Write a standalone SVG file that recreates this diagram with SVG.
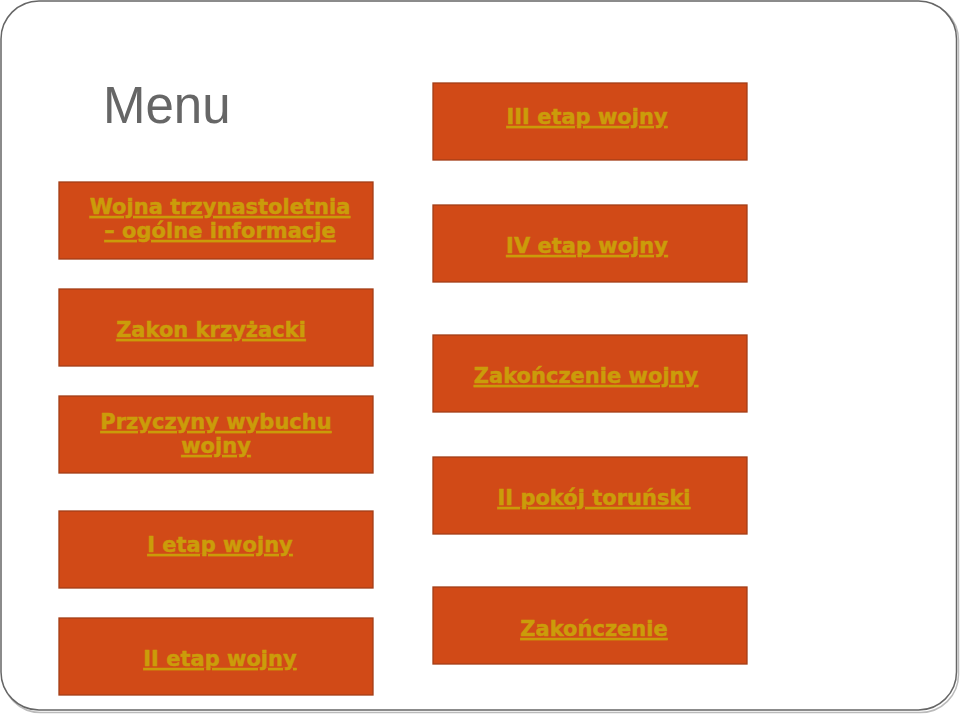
<svg xmlns="http://www.w3.org/2000/svg" width="960" height="714" viewBox="0 0 960 714">
<style>
.box{fill:#D14A17;stroke:#A33D16;stroke-width:1.3}
.lbl{font-family:"DejaVu Sans",sans-serif;font-weight:bold;font-size:21px;fill:#CB9C0A;stroke:#CB9C0A;stroke-width:0.5;text-anchor:middle;text-decoration:underline}
.title{font-family:"Liberation Sans",Arial,sans-serif;font-size:51px;fill:#666666}
</style>
<rect x="2.5" y="2.5" width="956" height="710" rx="38" fill="none" stroke="#bbbbbb" stroke-width="1.5"/>
<rect x="1" y="1" width="955.5" height="709" rx="38" fill="#ffffff" stroke="#666666" stroke-width="1.5"/>
<text class="title" x="103" y="123">Menu</text>
<g id="connectors"/>
<g id="n1"><rect class="box" x="59" y="182" width="314" height="77"/><text class="lbl" x="220" y="214">Wojna trzynastoletnia</text><text class="lbl" x="220" y="238">– ogólne informacje</text></g>
<g id="n2"><rect class="box" x="59" y="289" width="314" height="77"/><text class="lbl" x="211" y="337">Zakon krzyżacki</text></g>
<g id="n3"><rect class="box" x="59" y="396" width="314" height="77"/><text class="lbl" x="216" y="429">Przyczyny wybuchu</text><text class="lbl" x="216" y="453">wojny</text></g>
<g id="n4"><rect class="box" x="59" y="511" width="314" height="77"/><text class="lbl" x="220" y="552">I etap wojny</text></g>
<g id="n5"><rect class="box" x="59" y="618" width="314" height="77"/><text class="lbl" x="220" y="666">II etap wojny</text></g>
<g id="n6"><rect class="box" x="433" y="83" width="314" height="77"/><text class="lbl" x="587" y="124">III etap wojny</text></g>
<g id="n7"><rect class="box" x="433" y="205" width="314" height="77"/><text class="lbl" x="587" y="253">IV etap wojny</text></g>
<g id="n8"><rect class="box" x="433" y="335" width="314" height="77"/><text class="lbl" x="586" y="383">Zakończenie wojny</text></g>
<g id="n9"><rect class="box" x="433" y="457" width="314" height="77"/><text class="lbl" x="594" y="505">II pokój toruński</text></g>
<g id="n10"><rect class="box" x="433" y="587" width="314" height="77"/><text class="lbl" x="594" y="636">Zakończenie</text></g>
</svg>
